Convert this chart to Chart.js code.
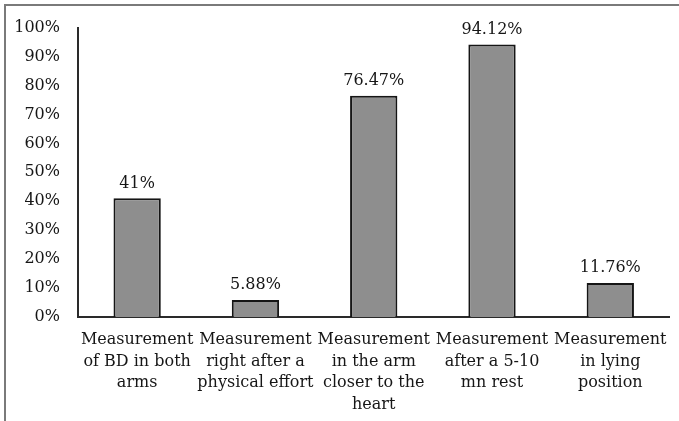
<!DOCTYPE html>
<html>
<head>
<meta charset="utf-8">
<script src="https://cdn.jsdelivr.net/npm/chart.js@4"></script>
<style>
  html, body { margin: 0; padding: 0; background: #fff; }
  #wrap { position: relative; width: 679px; height: 421px; overflow: hidden; }
  #frame { position: absolute; left: 4px; top: 4px; width: 800px; height: 600px;
           border-top: 2px solid #7a7a7a; border-left: 2px solid #7a7a7a; }
  canvas { position: absolute; left: 0; top: 0; }
</style>
</head>
<body>
<div id="wrap">
  <div id="frame"></div>
  <canvas id="c" width="679" height="421"></canvas>
</div>
<script>
const categories = [
  ['Measurement', 'of BD in both', 'arms'],
  ['Measurement', 'right after a', 'physical effort'],
  ['Measurement', 'in the arm', 'closer to the', 'heart'],
  ['Measurement', 'after a 5-10', 'mn rest'],
  ['Measurement', 'in lying', 'position']
];
const percentages = [41, 5.88, 76.47, 94.12, 11.76];
const yTicks = [0, 10, 20, 30, 40, 50, 60, 70, 80, 90, 100];

const FONT = "'DejaVu Serif', serif";
const INK = '#161616';

// Writes each bar's value above it
const valueLabels = {
  id: 'valueLabels',
  afterDatasetsDraw(chart) {
    const ctx = chart.ctx;
    const meta = chart.getDatasetMeta(0);
    ctx.save();
    ctx.font = '16px ' + FONT;
    ctx.fillStyle = INK;
    ctx.textAlign = 'center';
    ctx.textBaseline = 'bottom';
    meta.data.forEach((bar, i) => {
      ctx.fillText(String(percentages[i]) + '%', bar.x, bar.y - 7);
    });
    ctx.restore();
  }
};

new Chart(document.getElementById('c'), {
  type: 'bar',
  data: {
    labels: categories,
    datasets: [{
      data: percentages,
      backgroundColor: '#8e8e8e',
      borderColor: '#151515',
      borderWidth: 2,
      barPercentage: 0.4,
      categoryPercentage: 1.0
    }]
  },
  options: {
    responsive: false,
    animation: false,
    devicePixelRatio: 1,
    layout: { padding: { top: 24, right: 5, left: 0, bottom: 0 } },
    plugins: { legend: { display: false }, tooltip: { enabled: false } },
    scales: {
      x: {
        grid: { display: false, drawTicks: false },
        border: { display: true, color: '#2a2a2a', width: 2 },
        ticks: {
          color: INK,
          font: { family: FONT, size: 16, lineHeight: 1.35 },
          padding: 12,
          maxRotation: 0,
          autoSkip: false
        },
        afterFit(scale) { scale.height = 104; }
      },
      y: {
        min: 0,
        max: 100,
        afterBuildTicks(scale) { scale.ticks = yTicks.map(v => ({ value: v })); },
        grid: { display: false, drawTicks: false },
        border: { display: true, color: '#2a2a2a', width: 2 },
        ticks: {
          color: INK,
          font: { family: FONT, size: 16 },
          padding: 18,
          callback: v => v + '%'
        },
        afterFit(scale) { scale.width = 78; }
      }
    }
  },
  plugins: [valueLabels]
});
</script>
</body>
</html>
